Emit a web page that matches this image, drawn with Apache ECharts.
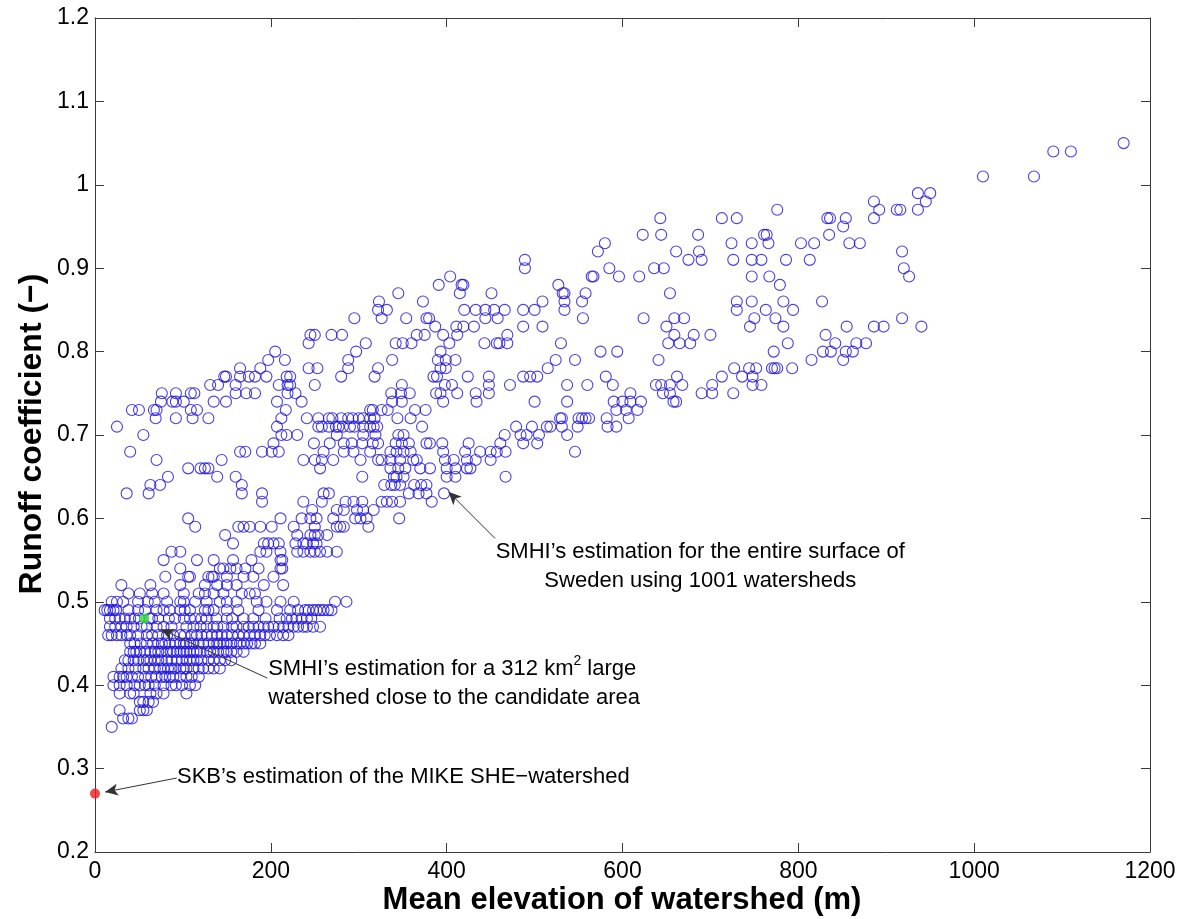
<!DOCTYPE html>
<html>
<head>
<meta charset="utf-8">
<script src="https://cdn.jsdelivr.net/npm/echarts@6/dist/echarts.min.js"></script>
<style>
  html, body { margin: 0; padding: 0; background: #ffffff; }
  #chart { width: 1179px; height: 919px; }
</style>
</head>
<body>
<div id="chart"></div>
<script>
// Runoff coefficient levels (the estimates come in steps of 0.01)
const runoffLevels = [
  0.35, 0.36, 0.37, 0.38, 0.39, 0.40, 0.41, 0.42, 0.43, 0.44,
  0.45, 0.46, 0.47, 0.48, 0.49, 0.50, 0.51, 0.52, 0.53, 0.54,
  0.55, 0.56, 0.57, 0.58, 0.59, 0.60, 0.61, 0.62, 0.63, 0.64,
  0.65, 0.66, 0.67, 0.68, 0.69, 0.70, 0.71, 0.72, 0.73, 0.74,
  0.75, 0.76, 0.77, 0.78, 0.79, 0.80, 0.81, 0.82, 0.83, 0.84,
  0.85, 0.86, 0.87, 0.88, 0.89, 0.90, 0.91, 0.92, 0.93, 0.94,
  0.95, 0.96, 0.97, 0.98, 0.99, 1.01, 1.04, 1.05
];

// Mean elevation (m) of every SMHI watershed found at each runoff level above
const elevationsAtLevel = [
  [19],
  [32, 38, 42],
  [28, 51, 55, 59],
  [51, 55, 61, 66],
  [28, 40, 44, 63, 70, 78, 104],
  [21, 28, 36, 45, 51, 57, 61, 68, 78, 87, 92, 99, 108, 114],
  [21, 28, 32, 36, 42, 49, 57, 64, 70, 76, 80, 85, 89, 97, 104, 110, 118],
  [30, 38, 46, 55, 61, 68, 74, 78, 83, 87, 91, 97, 101, 104, 112, 118, 123, 129, 135, 142],
  [34, 38, 44, 49, 55, 59, 63, 68, 72, 76, 82, 87, 93, 99, 104, 108, 112, 116, 121, 129, 135, 142, 148, 155],
  [40, 44, 47, 51, 57, 63, 68, 72, 76, 82, 86, 89, 93, 97, 101, 104, 108, 112, 116, 120, 127, 131, 135, 140, 146, 150, 155, 161, 169],
  [40, 45, 52, 59, 66, 72, 76, 80, 85, 91, 97, 101, 104, 108, 112, 118, 123, 129, 135, 139, 142, 146, 150, 155, 161, 165, 169, 173, 178, 182, 188],
  [15, 19, 25, 30, 36, 40, 49, 59, 65, 72, 82, 89, 97, 102, 110, 116, 121, 127, 133, 139, 144, 150, 156, 163, 169, 176, 182, 188, 193, 199, 207, 214, 220],
  [17, 23, 30, 36, 44, 53, 59, 70, 78, 87, 104, 112, 120, 127, 135, 139, 146, 156, 161, 169, 175, 180, 186, 192, 197, 203, 209, 214, 220, 226, 231, 237, 241, 248, 256],
  [17, 23, 28, 34, 40, 45, 50, 62, 65, 72, 84, 91, 101, 108, 114, 121, 127, 138, 150, 156, 169, 180, 194, 210, 218, 224, 229, 235, 241, 246],
  [11, 14, 17, 21, 24, 38, 49, 57, 70, 78, 85, 97, 102, 108, 125, 129, 135, 150, 163, 186, 207, 222, 231, 239, 243, 248, 252, 256, 260, 265, 269],
  [19, 25, 32, 49, 60, 68, 82, 97, 101, 114, 127, 142, 150, 161, 184, 195, 211, 226, 273, 286],
  [38, 51, 65, 78, 101, 118, 125, 135, 146, 167, 176, 182],
  [30, 63, 97, 125, 139, 150, 161, 192, 214],
  [80, 106, 108, 129, 133, 135, 150, 169, 180, 203],
  [97, 142, 146, 154, 161, 171, 186, 211, 213],
  [78, 116, 135, 157, 178, 211, 213],
  [87, 97, 188, 195, 211, 230, 237, 245, 250, 256, 264, 275],
  [157, 192, 197, 203, 209, 228, 237, 241, 248, 252],
  [148, 230, 245, 250, 254, 264],
  [114, 163, 169, 176, 188, 201, 226, 250, 275, 279, 283, 311],
  [106, 211, 235, 245, 252, 271, 296, 302, 309, 346],
  [247, 275, 283, 298, 305, 317],
  [190, 237, 258, 285, 294, 304, 326, 332, 338, 347, 383],
  [36, 61, 167, 190, 260, 266, 357, 368, 377, 397],
  [63, 74, 167, 329, 337, 341, 347, 363, 371, 377],
  [83, 139, 160, 304, 340, 343, 351, 400, 410, 467],
  [106, 120, 125, 129, 256, 336, 345, 353, 370, 381, 400, 410, 423, 427],
  [70, 144, 237, 250, 258, 271, 302, 322, 326, 336, 347, 362, 366, 398, 408, 423, 433, 450],
  [40, 165, 171, 190, 201, 209, 260, 283, 294, 313, 336, 343, 351, 359, 396, 421, 438, 450, 457, 467, 546],
  [203, 249, 267, 283, 292, 304, 316, 322, 342, 349, 357, 377, 381, 395, 425, 461, 487, 503],
  [55, 212, 218, 230, 275, 305, 319, 345, 351, 466, 484, 491, 505, 537],
  [25, 207, 254, 258, 266, 274, 277, 282, 290, 295, 305, 313, 317, 321, 372, 479, 497, 514, 518, 531, 549, 583, 593],
  [69, 92, 111, 129, 212, 241, 254, 266, 270, 280, 288, 293, 300, 305, 313, 318, 344, 359, 529, 531, 550, 554, 558, 562, 582, 607],
  [42, 50, 67, 70, 109, 116, 217, 313, 316, 326, 333, 364, 376, 593, 604, 617],
  [75, 88, 92, 101, 135, 149, 207, 235, 338, 349, 396, 434, 500, 537, 590, 600, 609, 621, 658, 661],
  [76, 92, 109, 113, 160, 172, 182, 219, 228, 337, 348, 358, 388, 393, 412, 433, 448, 609, 646, 654, 690, 702, 726],
  [131, 140, 160, 209, 219, 222, 250, 349, 398, 406, 448, 472, 537, 560, 589, 638, 644, 654, 668, 702, 748, 758],
  [147, 149, 165, 175, 182, 195, 218, 222, 280, 318, 385, 389, 424, 448, 487, 495, 503, 581, 662, 713, 736, 748],
  [165, 188, 243, 253, 288, 322, 393, 399, 515, 727, 744, 752, 770, 773, 776, 793],
  [197, 216, 288, 338, 390, 399, 410, 524, 546, 641, 815, 851],
  [205, 297, 393, 575, 594, 772, 828, 837, 854, 862],
  [243, 308, 342, 350, 360, 403, 443, 457, 460, 469, 530, 652, 665, 677, 788, 842, 866, 877],
  [245, 250, 269, 281, 366, 375, 396, 412, 469, 659, 681, 700, 831],
  [387, 411, 419, 431, 487, 509, 650, 745, 783, 855, 886, 897, 940],
  [295, 326, 354, 377, 380, 444, 458, 555, 624, 659, 670, 750, 774, 918],
  [322, 332, 420, 433, 444, 454, 466, 487, 500, 534, 730, 763, 794],
  [323, 373, 509, 534, 554, 730, 747, 783, 827],
  [345, 415, 451, 532, 534, 558, 654],
  [391, 417, 419, 527, 779],
  [404, 565, 567, 596, 619, 747, 767, 926],
  [489, 585, 636, 647, 920],
  [489, 675, 690, 726, 747, 758, 786, 813],
  [572, 661, 687, 918],
  [580, 724, 747, 766, 803, 818, 858, 870],
  [623, 644, 686, 761, 764, 835],
  [851],
  [643, 713, 730, 833, 836, 854, 886],
  [776, 892, 912, 916, 936],
  [886, 945],
  [936, 950],
  [1010, 1068],
  [1090, 1110],
  [1170]
];

// Single estimates shown with filled markers: [elevation (m), runoff coefficient]
const regionalWatershed = [56, 0.48];
const mikeSheWatershed = [0, 0.27];

const xTickValues = [0, 200, 400, 600, 800, 1000, 1200];
const yTickValues = [0.2, 0.3, 0.4, 0.5, 0.6, 0.7, 0.8, 0.9, 1.0, 1.1, 1.2];

// Flatten the levels into [elevation, runoff] pairs
const watersheds = [];
runoffLevels.forEach((runoff, i) => {
  elevationsAtLevel[i].forEach(elev => watersheds.push([elev, runoff]));
});

const FONT = '"Liberation Sans", Arial, Helvetica, sans-serif';
const AXIS_COLOR = '#3a3a3a';
const CIRCLE_COLOR = '#1c10d8';

const axisCommon = {
  type: 'value',
  axisLine: { show: true, onZero: false, lineStyle: { color: AXIS_COLOR, width: 1 } },
  axisTick: { show: true, inside: true, length: 9, lineStyle: { color: AXIS_COLOR, width: 1 } },
  splitLine: { show: false }
};

const arrowLines = [
  [{ coord: [455, 0.576] }, { coord: [402, 0.632] }],
  [{ coord: [196, 0.4085] }, { coord: [75, 0.4672] }],
  [{ coord: [93, 0.2887] }, { coord: [11.4, 0.2719] }]
];

const chart = echarts.init(document.getElementById('chart'), null, { renderer: 'canvas' });

chart.setOption({
  animation: false,
  backgroundColor: '#ffffff',
  grid: { left: 95, right: 29, top: 18, bottom: 67, containLabel: false },
  xAxis: [
    Object.assign({}, axisCommon, {
      min: xTickValues[0], max: xTickValues[xTickValues.length - 1], interval: 200, position: 'bottom',
      axisLabel: { show: true, fontSize: 23, color: '#000', fontFamily: FONT, margin: 8, formatter: v => String(v) }
    }),
    Object.assign({}, axisCommon, {
      min: xTickValues[0], max: xTickValues[xTickValues.length - 1], interval: 200, position: 'top',
      axisLabel: { show: false }
    })
  ],
  yAxis: [
    Object.assign({}, axisCommon, {
      min: yTickValues[0], max: yTickValues[yTickValues.length - 1], interval: 0.1, position: 'left',
      axisLabel: {
        show: true, fontSize: 23, color: '#000', fontFamily: FONT, margin: 6,
        formatter: v => String(Math.round(v * 10) / 10)
      }
    }),
    Object.assign({}, axisCommon, {
      min: yTickValues[0], max: yTickValues[yTickValues.length - 1], interval: 0.1, position: 'right',
      axisLabel: { show: false }
    })
  ],
  series: [
    {
      name: 'SMHI watersheds',
      type: 'scatter',
      xAxisIndex: 0, yAxisIndex: 0,
      symbol: 'circle',
      symbolSize: 11,
      itemStyle: { color: 'transparent', borderColor: CIRCLE_COLOR, borderWidth: 1.1 },
      emphasis: { disabled: true },
      silent: true,
      data: watersheds,
      markLine: {
        silent: true,
        symbol: ['none', 'arrow'],
        symbolSize: [9, 13],
        label: { show: false },
        lineStyle: { color: '#333333', width: 1, type: 'solid' },
        emphasis: { disabled: true },
        data: arrowLines
      }
    },
    {
      name: 'Regional watershed',
      type: 'scatter',
      symbolSize: 10,
      itemStyle: { color: '#2ee62e' },
      silent: true,
      data: [regionalWatershed],
      z: 5
    },
    {
      name: 'MIKE SHE watershed',
      type: 'scatter',
      symbolSize: 10,
      itemStyle: { color: '#f01c1c' },
      silent: true,
      data: [mikeSheWatershed],
      z: 5
    }
  ]
});

// Annotation texts anchored at data coordinates
const anchorEntire = chart.convertToPixel({ gridIndex: 0 }, [688.5, 0.543]);
const anchorRegional = chart.convertToPixel({ gridIndex: 0 }, [197, 0.402]);
const anchorSkb = chart.convertToPixel({ gridIndex: 0 }, [93.3, 0.290]);

chart.setOption({
  graphic: [
    {
      type: 'text', x: anchorEntire[0], y: anchorEntire[1], silent: true,
      style: {
        text: 'SMHI’s estimation for the entire surface of\nSweden using 1001 watersheds',
        font: '22px ' + FONT, fill: '#000', lineHeight: 29,
        align: 'center', verticalAlign: 'middle', textAlign: 'center', textVerticalAlign: 'middle'
      }
    },
    {
      type: 'text', x: anchorRegional[0], y: anchorRegional[1], silent: true,
      style: {
        text: 'SMHI’s estimation for a 312 km{sup|2} large\nwatershed close to the candidate area',
        font: '22px ' + FONT, fill: '#000', lineHeight: 29,
        rich: { sup: { fontSize: 14, lineHeight: 14, verticalAlign: 'top', fontFamily: FONT, fill: '#000' } },
        align: 'left', verticalAlign: 'middle', textAlign: 'left', textVerticalAlign: 'middle'
      }
    },
    {
      type: 'text', x: anchorSkb[0], y: anchorSkb[1], silent: true,
      style: {
        text: 'SKB’s estimation of the MIKE SHE−watershed',
        font: '22px ' + FONT, fill: '#000',
        align: 'left', verticalAlign: 'middle', textAlign: 'left', textVerticalAlign: 'middle'
      }
    },
    {
      type: 'text', x: 622, y: 900, silent: true,
      style: {
        text: 'Mean elevation of watershed (m)',
        font: 'bold 31px ' + FONT, fill: '#000',
        align: 'center', verticalAlign: 'middle', textAlign: 'center', textVerticalAlign: 'middle'
      }
    },
    {
      type: 'text', x: 32, y: 434, rotation: Math.PI / 2, silent: true,
      style: {
        text: 'Runoff coefficient (−)',
        font: 'bold 32px ' + FONT, fill: '#000',
        align: 'center', verticalAlign: 'middle', textAlign: 'center', textVerticalAlign: 'middle'
      }
    }
  ]
});
</script>
</body>
</html>
